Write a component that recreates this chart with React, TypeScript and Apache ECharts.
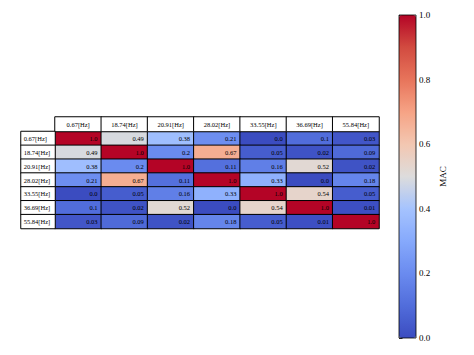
import React, { useEffect, useRef } from "react";
import * as echarts from "echarts";

const freqLabels = ["0.67[Hz]", "18.74[Hz]", "20.91[Hz]", "28.02[Hz]", "33.55[Hz]", "36.69[Hz]", "55.84[Hz]"];
const macRows = [
  [1.0, 0.49, 0.38, 0.21, 0.0, 0.1, 0.03],
  [0.49, 1.0, 0.2, 0.67, 0.05, 0.02, 0.09],
  [0.38, 0.2, 1.0, 0.11, 0.16, 0.52, 0.02],
  [0.21, 0.67, 0.11, 1.0, 0.33, 0.0, 0.18],
  [0.0, 0.05, 0.16, 0.33, 1.0, 0.54, 0.05],
  [0.1, 0.02, 0.52, 0.0, 0.54, 1.0, 0.01],
  [0.03, 0.09, 0.02, 0.18, 0.05, 0.01, 1.0],
];
const colorbarMin = 0;
const colorbarMax = 1;
const colorbarStep = 0.2;
const coolwarm = ["#3b4cc0", "#516ddb", "#6a8bef", "#86a9fc", "#a5c3fe", "#dddcdc", "#f3c7b1", "#f6a385", "#e7745b", "#d24b40", "#b40426"];

const fmtVal = (v: number) => (Number.isInteger(v) ? v.toFixed(1) : String(v));

export default function App() {
  const ref = useRef<HTMLDivElement>(null);
  useEffect(() => {
    if (!ref.current) return;
    const chart = echarts.init(ref.current, null, { renderer: "svg" });
    const font = "Liberation Serif";
    const cellData: [number, number, number][] = [];
    macRows.forEach((row, r) => row.forEach((v, c) => cellData.push([c, r, v])));
    const headerData = freqLabels.map((_, i) => [i, 0, 0]);
    const rowLabelData = freqLabels.map((_, i) => [0, i, 0]);
    const border = { borderColor: "#000", borderWidth: 1 };
    const hiddenCat = (data: string[], gridIndex: number, inverse = false) => ({
      type: "category",
      data,
      gridIndex,
      inverse,
      axisLine: { show: false },
      axisTick: { show: false },
      axisLabel: { show: false },
      splitLine: { show: false },
    });
    chart.setOption({
      animation: false,
      backgroundColor: "#fff",
      grid: [
        { left: 55, top: 131.5, width: 324, height: 97 },
        { left: 55, top: 117, width: 324, height: 14.5 },
        { left: 21, top: 131.5, width: 34, height: 97 },
        {
          left: 399, top: 15, width: 17, height: 323, show: true,
          borderColor: "#000", borderWidth: 0.8, backgroundColor: "transparent", z: 10,
        },
      ],
      xAxis: [
        hiddenCat(freqLabels, 0),
        hiddenCat(freqLabels, 1),
        hiddenCat(["label"], 2),
        { type: "value", gridIndex: 3, show: false, min: 0, max: 1 },
      ],
      yAxis: [
        hiddenCat(freqLabels, 0, true),
        hiddenCat(["header"], 1),
        hiddenCat(freqLabels, 2, true),
        {
          type: "value",
          gridIndex: 3,
          position: "right",
          min: colorbarMin,
          max: colorbarMax,
          interval: colorbarStep,
          axisLine: { show: false },
          axisTick: { show: true, length: 3.5, lineStyle: { color: "#000", width: 0.8 } },
          axisLabel: {
            color: "#000", fontFamily: font, fontSize: 9, margin: 3,
            formatter: (v: number) => v.toFixed(1),
          },
          splitLine: { show: false },
          name: "MAC",
          nameLocation: "middle",
          nameGap: 22,
          nameRotate: 90,
          nameTextStyle: { color: "#000", fontFamily: font, fontSize: 9 },
        },
      ],
      visualMap: [
        {
          type: "continuous",
          seriesIndex: 0,
          min: colorbarMin,
          max: colorbarMax,
          left: 399,
          top: 15,
          itemWidth: 17,
          itemHeight: 323,
          padding: 0,
          calculable: false,
          showLabel: false,
          hoverLink: false,
          inRange: { color: coolwarm },
        },
        {
          type: "continuous",
          show: false,
          seriesIndex: [1, 2],
          min: 0,
          max: 1,
          inRange: { color: ["#ffffff", "#ffffff"] },
        },
      ],
      series: [
        {
          type: "heatmap",
          xAxisIndex: 0,
          yAxisIndex: 0,
          data: cellData,
          itemStyle: border,
          label: {
            show: true,
            position: "insideRight",
            distance: 4.5,
            color: "#000",
            fontFamily: font,
            fontSize: 6.5,
            formatter: (p: any) => fmtVal(p.value[2]),
          },
          emphasis: { disabled: true },
        },
        {
          type: "heatmap",
          xAxisIndex: 1,
          yAxisIndex: 1,
          data: headerData,
          itemStyle: border,
          label: {
            show: true,
            position: "inside",
            color: "#000",
            fontFamily: font,
            fontSize: 6.5,
            formatter: (p: any) => freqLabels[p.value[0]],
          },
          emphasis: { disabled: true },
        },
        {
          type: "heatmap",
          xAxisIndex: 2,
          yAxisIndex: 2,
          data: rowLabelData,
          itemStyle: border,
          label: {
            show: true,
            position: "insideLeft",
            distance: 3.4,
            color: "#000",
            fontFamily: font,
            fontSize: 6.5,
            formatter: (p: any) => freqLabels[p.value[1]],
          },
          emphasis: { disabled: true },
        },
      ],
    });
    return () => chart.dispose();
  }, []);
  return <div ref={ref} style={{ position: "absolute", left: 0, top: 0, width: 474, height: 355 }} />;
}
